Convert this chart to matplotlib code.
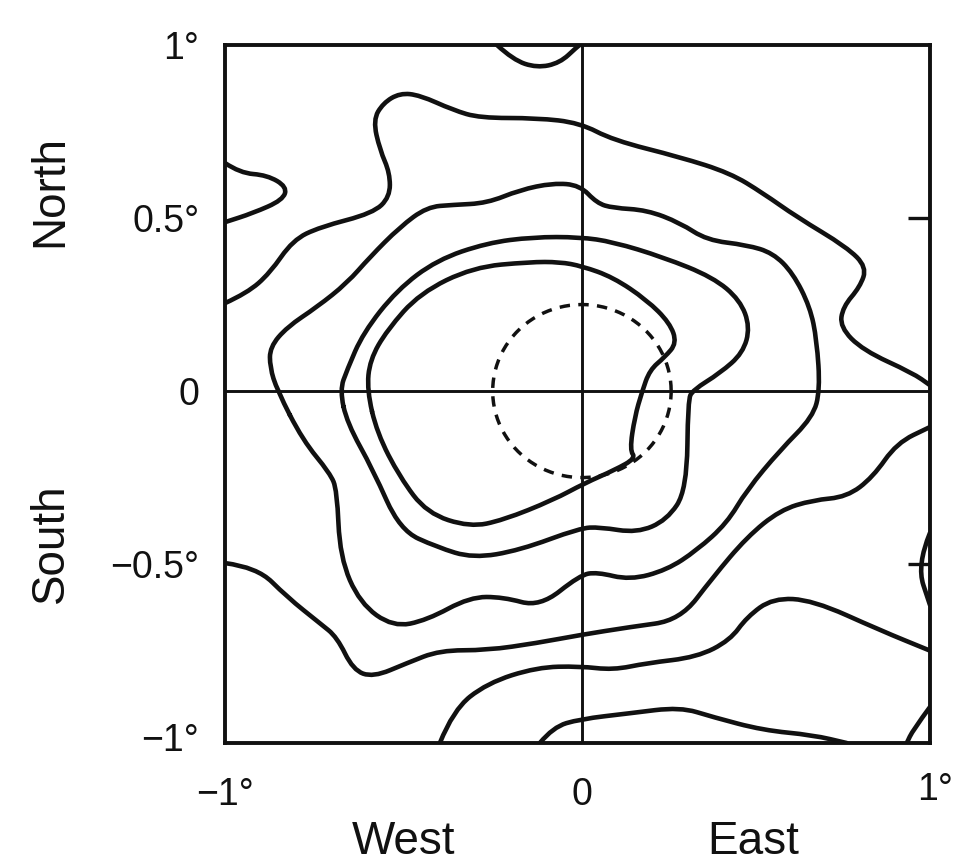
import numpy as np
import matplotlib
matplotlib.use("Agg")
import matplotlib.pyplot as plt
import matplotlib.transforms as mtransforms
from matplotlib.path import Path
from matplotlib.patches import PathPatch

# ── Style ─────────────────────────────────────────────────────────────────────

plt.rcParams.update({
    "font.family": ["Liberation Sans", "DejaVu Sans"],
    "font.size": 27,
})

INK = "#111111"

# ── Data (degrees) ────────────────────────────────────────────────────────────

# closed contours around the centre (innermost first)
ring_a_x = [-0.602, -0.594, -0.546, -0.454, -0.305, -0.146, -0.062, 0.0, 0.087,
            0.182, 0.246, 0.266, 0.232, 0.190, 0.168, 0.148, 0.134, 0.151, 0.092,
            0.008, -0.081, -0.221, -0.314, -0.434, -0.510, -0.574]
ring_a_y = [0.003, 0.090, 0.176, 0.283, 0.358, 0.373, 0.373, 0.361, 0.329,
            0.263, 0.197, 0.139, 0.098, 0.061, -0.003, -0.075, -0.171, -0.194, -0.228,
            -0.266, -0.315, -0.373, -0.393, -0.353, -0.249, -0.121]

ring_b_x = [-0.678, -0.658, -0.613, -0.518, -0.406, -0.266, -0.137, -0.006, 0.087,
            0.227, 0.367, 0.443, 0.471, 0.451, 0.387, 0.311, 0.297, 0.294, 0.238,
            0.154, 0.050, -0.006, -0.174, -0.305, -0.406, -0.510, -0.585, -0.658]
ring_b_y = [0.003, 0.061, 0.168, 0.292, 0.379, 0.428, 0.445, 0.445, 0.431,
            0.387, 0.329, 0.263, 0.185, 0.110, 0.052, 0.003, -0.026, -0.286, -0.373,
            -0.410, -0.393, -0.396, -0.460, -0.483, -0.451, -0.402, -0.228, -0.092]

ring_c_x = [-0.854, -0.874, -0.874, -0.826, -0.742, -0.658, -0.594, -0.510, -0.434,
            -0.361, -0.266, -0.174, -0.081, -0.006, 0.042, 0.087, 0.182, 0.275,
            0.350, 0.462, 0.535, 0.591, 0.639, 0.658, 0.667, 0.647, 0.555, 0.462,
            0.406, 0.322, 0.238, 0.134, 0.042, -0.006, -0.118, -0.221, -0.314,
            -0.434, -0.529, -0.622, -0.678, -0.686, -0.706, -0.782]
ring_c_y = [0.003, 0.069, 0.127, 0.185, 0.243, 0.312, 0.387, 0.474, 0.532,
            0.538, 0.543, 0.581, 0.601, 0.595, 0.543, 0.529, 0.523, 0.486,
            0.436, 0.422, 0.399, 0.341, 0.243, 0.147, 0.003, -0.075, -0.171, -0.286,
            -0.382, -0.460, -0.517, -0.546, -0.523, -0.532, -0.624, -0.595, -0.595,
            -0.662, -0.682, -0.613, -0.480, -0.286, -0.237, -0.142]

# open contours cut by the frame
upper_x = [-1.0, -0.938, -0.874, -0.810, -0.734, -0.585, -0.538, -0.538, -0.566,
           -0.585, -0.557, -0.510, -0.454, -0.361, -0.286, -0.126, -0.006, 0.087,
           0.275, 0.415, 0.507, 0.602, 0.742, 0.798, 0.779, 0.731, 0.723, 0.787,
           0.927, 0.975]
upper_y = [0.254, 0.283, 0.341, 0.436, 0.474, 0.514, 0.561, 0.630, 0.697,
           0.783, 0.832, 0.861, 0.855, 0.812, 0.789, 0.789, 0.775, 0.725,
           0.676, 0.630, 0.572, 0.503, 0.416, 0.358, 0.301, 0.243, 0.185, 0.118,
           0.052, 0.017]

lower_x = [-1.0, -0.910, -0.826, -0.734, -0.686, -0.641, -0.585, -0.490, -0.398,
           -0.266, -0.126, -0.006, 0.134, 0.275, 0.367, 0.462, 0.555, 0.647, 0.742,
           0.815, 0.882, 0.975]
lower_y = [-0.497, -0.509, -0.595, -0.671, -0.711, -0.806, -0.827, -0.786, -0.749,
           -0.749, -0.728, -0.705, -0.682, -0.662, -0.538, -0.422, -0.344, -0.315,
           -0.306, -0.249, -0.150, -0.104]

band_e_x = [-0.398, -0.361, -0.266, -0.126, -0.006, 0.087, 0.182, 0.322, 0.415,
            0.462, 0.535, 0.647, 0.835, 0.975]
band_e_y = [-1.017, -0.922, -0.844, -0.798, -0.795, -0.806, -0.786, -0.769, -0.720,
            -0.653, -0.598, -0.604, -0.691, -0.750]

band_f_x = [-0.118, -0.081, -0.006, 0.134, 0.275, 0.367, 0.507, 0.647, 0.742]
band_f_y = [-1.017, -0.971, -0.948, -0.931, -0.913, -0.942, -0.980, -0.994, -1.017]

corner_x = [0.975, 0.927, 0.910]
corner_y = [-0.913, -0.980, -1.017]

notch_x = [0.975, 0.938, 0.975]
notch_y = [-0.410, -0.503, -0.618]

top_cap_x = [-0.238, -0.193, -0.126, -0.062, -0.014, -0.006]
top_cap_y = [1.0, 0.957, 0.934, 0.948, 0.994, 1.0]

left_lobe_x = [-1.0, -0.958, -0.882, -0.826, -0.838, -0.922, -1.0]
left_lobe_y = [0.659, 0.630, 0.624, 0.590, 0.552, 0.514, 0.488]

circle_r = 0.25

y_ticks = [-1, -0.5, 0, 0.5, 1]
y_labels = ["\u22121\u00b0", "\u22120.5\u00b0", "0", "0.5\u00b0", "1\u00b0"]
right_ticks = [-0.5, 0.5]
x_ticks = [-1, 0]
x_labels = ["\u22121\u00b0", "0"]

# ── Helpers ───────────────────────────────────────────────────────────────────

def smooth_path(xs, ys, closed=False):
    """Quadratic Bezier through the midpoints; the traced points act as controls."""
    p = np.column_stack([xs, ys])
    if closed:
        mids = (p + np.roll(p, -1, axis=0)) / 2
        verts = [mids[-1]]
        codes = [Path.MOVETO]
        for i in range(len(p)):
            verts += [p[i], mids[i]]
            codes += [Path.CURVE3, Path.CURVE3]
    else:
        verts = [p[0]]
        codes = [Path.MOVETO]
        for i in range(1, len(p) - 1):
            verts += [p[i], (p[i] + p[i + 1]) / 2]
            codes += [Path.CURVE3, Path.CURVE3]
        verts.append(p[-1])
        codes.append(Path.LINETO)
    return Path(verts, codes)


def draw(ax, xs, ys, closed=False):
    ax.add_patch(PathPatch(smooth_path(xs, ys, closed), fill=False, ec=INK,
                           lw=3.3, joinstyle="round", capstyle="round",
                           zorder=3, clip_on=True))

# ── Figure ────────────────────────────────────────────────────────────────────

fig = plt.figure(figsize=(9.54, 8.65), dpi=100)
ax = fig.add_axes([0.2358, 0.1410, 0.7390, 0.8070])
ax.set_xlim(-1.0, 0.975)
ax.set_ylim(-1.017, 1.0)

for s in ax.spines.values():
    s.set_linewidth(2.8)
    s.set_color(INK)
    s.set_zorder(4)

ax.axhline(0, color=INK, lw=2.1, zorder=2)
ax.axvline(0, color=INK, lw=2.1, zorder=2)

for xs, ys in [(ring_a_x, ring_a_y), (ring_b_x, ring_b_y), (ring_c_x, ring_c_y)]:
    draw(ax, xs, ys, closed=True)
for xs, ys in [(upper_x, upper_y), (lower_x, lower_y), (band_e_x, band_e_y),
               (band_f_x, band_f_y), (corner_x, corner_y), (notch_x, notch_y),
               (top_cap_x, top_cap_y), (left_lobe_x, left_lobe_y)]:
    draw(ax, xs, ys)

t = np.linspace(0, 2 * np.pi, 200)
ax.plot(circle_r * np.cos(t), circle_r * np.sin(t), color=INK, lw=2.5,
        ls=(0, (3.0, 2.4)), zorder=3)

# ticks: labels only on left/bottom, short inward ticks at ±0.5 on the right
ax.set_yticks(y_ticks)
ax.set_yticklabels(y_labels)
ax.set_xticks(x_ticks)
ax.set_xticklabels(x_labels)
ax.set_yticks(right_ticks, minor=True)
ax.yaxis.remove_overlapping_locs = False
ax.tick_params(which="major", left=False, bottom=False, right=False, top=False,
               labelsize=27, pad=15, colors=INK)
ax.tick_params(axis="y", which="minor", left=False, right=True, direction="in",
               length=16, width=2.4, colors=INK)
ax.tick_params(axis="x", which="major", pad=21)

ax.text(0.99, -1.017, "1\u00b0", fontsize=27, ha="center", va="top",
        transform=mtransforms.offset_copy(ax.transData, fig=fig, y=-21, units="points"),
        clip_on=False, color=INK)

trans_y = mtransforms.blended_transform_factory(fig.transFigure, ax.transData)
ax.text(0.053, 0.578, "North", rotation=90, fontsize=33, ha="center", va="center",
        transform=trans_y, color=INK)
ax.text(0.053, -0.44, "South", rotation=90, fontsize=33, ha="center", va="center",
        transform=trans_y, color=INK)

trans_x = mtransforms.blended_transform_factory(ax.transData, fig.transFigure)
ax.text(-0.50, 0.027, "West", fontsize=33, ha="center", va="center",
        transform=trans_x, color=INK)
ax.text(0.48, 0.027, "East", fontsize=33, ha="center", va="center",
        transform=trans_x, color=INK)

fig.savefig("out.png", dpi=100, facecolor="white")
